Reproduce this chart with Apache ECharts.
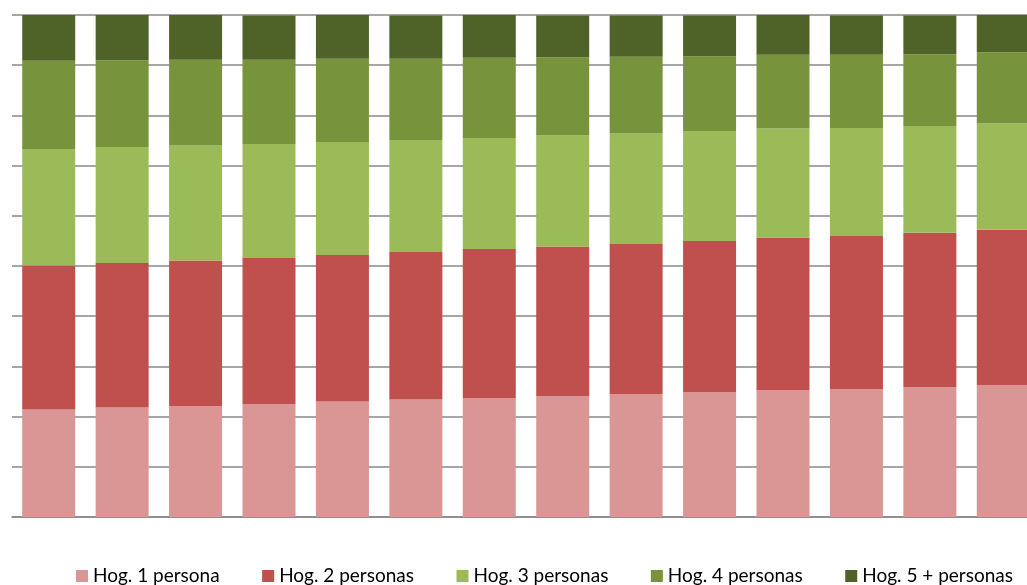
<!DOCTYPE html>
<html>
<head>
<meta charset="utf-8">
<script src="https://cdn.jsdelivr.net/npm/echarts@6/dist/echarts.min.js"></script>
<style>
  html, body { margin: 0; padding: 0; background: #ffffff; overflow: hidden; }
  /* plot area runs past the right edge of the window */
  #chart { width: 1041px; height: 585px; }
</style>
</head>
<body>
<div id="chart"></div>
<script>
// Household composition by size, share of total (%) per period
const categories = ['1', '2', '3', '4', '5', '6', '7', '8', '9', '10', '11', '12', '13', '14'];

const hog1 = [21.4, 21.8, 22.1, 22.5, 23.0, 23.4, 23.7, 24.1, 24.5, 24.9, 25.3, 25.5, 25.9, 26.3];
const hog2 = [28.7, 28.8, 29.0, 29.1, 29.2, 29.4, 29.7, 29.8, 29.9, 30.1, 30.4, 30.5, 30.7, 30.9];
const hog3 = [23.2, 23.1, 22.9, 22.7, 22.5, 22.3, 22.1, 22.1, 22.0, 21.9, 21.7, 21.5, 21.3, 21.2];
const hog4 = [17.6, 17.3, 17.1, 16.8, 16.6, 16.2, 16.0, 15.6, 15.3, 14.9, 14.7, 14.6, 14.3, 14.2];
const hog5 = [9.1, 9.0, 8.9, 8.8, 8.7, 8.6, 8.5, 8.3, 8.2, 8.1, 8.0, 7.8, 7.7, 7.5];

const seriesNames = ['Hog. 1 persona', 'Hog. 2 personas', 'Hog. 3 personas', 'Hog. 4 personas', 'Hog. 5 + personas'];
const seriesColors = ['#D99694', '#C0504D', '#9BBB59', '#77933C', '#4F6228'];
const seriesData = [hog1, hog2, hog3, hog4, hog5];

const chart = echarts.init(document.getElementById('chart'), null, { renderer: 'canvas' });

chart.setOption({
  animation: false,
  backgroundColor: '#ffffff',
  grid: { left: 12, top: 15, width: 1028, height: 502, containLabel: false },
  legend: {
    left: 76,
    top: 566,
    padding: 0,
    icon: 'rect',
    itemWidth: 12,
    itemHeight: 12,
    itemGap: 42.5,
    textStyle: { fontFamily: 'Lato', fontSize: 19, color: '#000000', lineHeight: 20 },
    data: seriesNames
  },
  xAxis: {
    type: 'category',
    data: categories,
    axisLine: { show: true, lineStyle: { color: '#888888', width: 1.5 } },
    axisTick: { show: false },
    axisLabel: { show: false }
  },
  yAxis: {
    type: 'value',
    min: 0,
    max: 100,
    interval: 10,
    axisLine: { show: false },
    axisTick: { show: false },
    axisLabel: { show: false },
    splitLine: { show: true, lineStyle: { color: '#888888', width: 1.5 } }
  },
  series: seriesData.map((d, i) => ({
    name: seriesNames[i],
    type: 'bar',
    stack: 'total',
    barWidth: 53,
    itemStyle: { color: seriesColors[i] },
    data: d
  }))
});
</script>
</body>
</html>
